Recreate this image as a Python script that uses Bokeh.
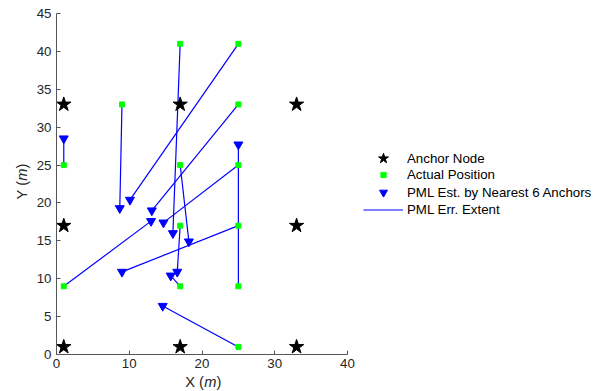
import math
from bokeh.plotting import figure
from bokeh.models import Legend, LegendItem, FixedTicker, Range1d, Label
from bokeh.embed import file_html
from bokeh.resources import INLINE

# Anchor nodes
anchor_x = [1, 17, 33, 1, 33, 1, 17, 33]
anchor_y = [1, 1, 1, 17, 17, 33, 33, 33]

# Actual positions
actual_x = [1, 9, 17, 25, 25, 17, 25, 25, 17, 1, 17, 25, 25]
actual_y = [25, 33, 41, 41, 33, 25, 25, 17, 17, 9, 9, 9, 1]

# PML estimates (nearest 6 anchors)
est_x = [1.0, 8.7, 16.0, 10.1, 13.1, 18.2, 14.7, 9.0, 16.6, 13.0, 15.7, 25.0, 14.6]
est_y = [28.5, 19.3, 16.0, 20.4, 19.0, 14.9, 17.4, 10.9, 10.9, 17.6, 10.4, 27.7, 6.4]

x_ticks = [0, 10, 20, 30, 40]
y_ticks = [0, 5, 10, 15, 20, 25, 30, 35, 40, 45]

legend_labels = ["Anchor Node", "Actual Position",
                 "PML Est. by Nearest 6 Anchors", "PML Err. Extent"]

W, H = 600, 391
# pixel placement of the axes box inside the canvas
AX_L, AX_R, AX_T, AX_B = 56, 347, 13, 354
sx = (AX_R - AX_L) / 40.0
sy = (AX_B - AX_T) / 45.0

p = figure(width=W, height=H, output_backend="svg", toolbar_location=None,
           x_range=Range1d(-AX_L / sx, (W - AX_L) / sx),
           y_range=Range1d(-(H - AX_B) / sy, AX_B / sy),
           min_border=0)
p.outline_line_color = None
p.grid.visible = False
p.background_fill_color = "white"
p.border_fill_color = "white"

seg = p.segment(x0=actual_x, y0=actual_y, x1=est_x, y1=est_y,
                line_color="#0000FF", line_width=1.2)
est = p.scatter(est_x, est_y, marker="inverted_triangle", size=9,
                fill_color="#0000FF", line_color="#0000FF")
act = p.scatter(actual_x, actual_y, marker="square", size=5,
                fill_color="#00FF00", line_color="#00FF00")
anc = p.scatter(anchor_x, anchor_y, marker="star", size=15,
                fill_color="black", line_color="black")

for ax in (p.xaxis[0], p.yaxis[0]):
    ax.fixed_location = 0
    ax.axis_line_color = "#555555"
    ax.major_tick_line_color = "#555555"
    ax.major_tick_in = 4
    ax.major_tick_out = 0
    ax.minor_tick_line_color = None
    ax.major_label_text_font = "Liberation Sans"
    ax.major_label_text_font_size = "13.3px"
    ax.major_label_text_color = "#262626"
p.xaxis.bounds = (0, 40)
p.yaxis.bounds = (0, 45)
p.xaxis.major_label_standoff = 4
p.yaxis.major_label_standoff = 5
p.xaxis.ticker = FixedTicker(ticks=x_ticks)
p.yaxis.ticker = FixedTicker(ticks=y_ticks)

# Axis labels with italic unit
lab_kw = dict(text_font="Liberation Sans", text_font_size="14.7px",
              text_color="#262626", text_baseline="middle")
xb = (AX_B - 381) / sy
p.add_layout(Label(x=20.27, y=xb, text="X (", text_align="right", **lab_kw))
p.add_layout(Label(x=21.14, y=xb, text="m", text_align="center",
                   text_font_style="italic", **lab_kw))
p.add_layout(Label(x=21.99, y=xb, text=")", text_align="left", **lab_kw))

yb = (21 - AX_L) / sx
p.add_layout(Label(x=yb, y=22.94, text="Y (", text_align="right",
                   angle=math.pi / 2, **lab_kw))
p.add_layout(Label(x=yb, y=23.74, text="m", text_align="center",
                   angle=math.pi / 2, text_font_style="italic", **lab_kw))
p.add_layout(Label(x=yb, y=24.55, text=")", text_align="left",
                   angle=math.pi / 2, **lab_kw))

# One legend per entry so each legend marker can have its own size
row_centers = [158.3, 175.3, 192.3, 209.3]
row_heights = [26, 13, 20, 17]
for lbl, rend, cy, rh in zip(legend_labels, [anc, act, est, seg],
                             row_centers, row_heights):
    lg = Legend(items=[LegendItem(label=lbl, renderers=[rend])],
                location=(363, round(H - (cy + rh / 2.0))), padding=0,
                margin=0, spacing=0, glyph_width=40, glyph_height=rh,
                label_height=rh, label_standoff=4, border_line_color=None,
                background_fill_alpha=0,
                label_text_font="Liberation Sans",
                label_text_font_size="13.3px", label_text_color="black",
                label_text_baseline="middle")
    p.add_layout(lg, "center")

open("out.html", "w").write(file_html(p, INLINE))
